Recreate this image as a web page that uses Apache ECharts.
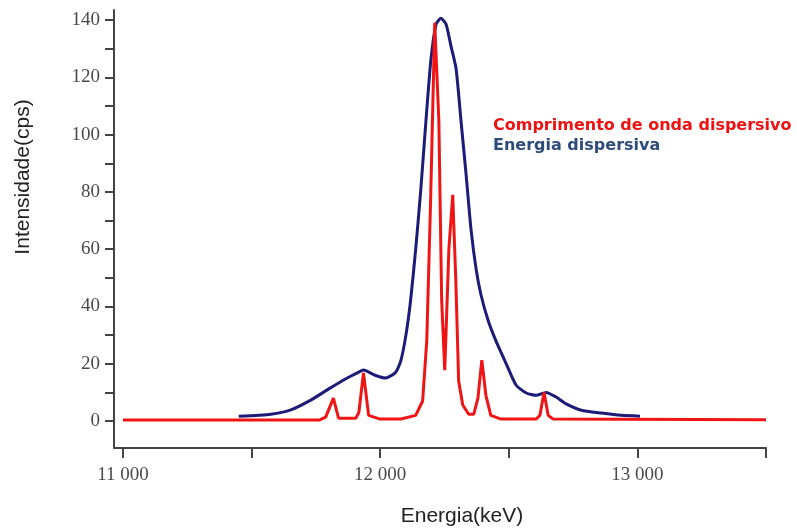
<html>
<head>
  <script src="https://cdn.jsdelivr.net/npm/echarts@6/dist/echarts.min.js"></script>
  <title>Energia dispersiva</title>
</head>
<body style="margin: 0; background: #fff;">
  <div id="main" style="width: 797px; height: 530px;"></div>
  <script>
    // energy (keV), intensity (cps)
    var edsEnergy = [11450, 11575, 11650, 11730, 11805, 11865, 11915, 11935, 11980, 12020, 12060, 12080, 12100, 12118, 12138, 12158, 12178, 12197, 12217, 12236, 12256, 12275, 12295, 12314, 12334, 12353, 12373, 12392, 12420, 12450, 12490, 12528, 12568, 12606, 12645, 12684, 12723, 12782, 12860, 12938, 13010];
    var edsCounts = [1.7, 2.4, 3.8, 7.3, 11.5, 14.7, 17, 17.8, 16, 15, 17, 21, 30, 42, 60, 81, 105, 126, 138.5, 140.6, 138.5, 131, 123, 105, 86, 67, 53, 44, 35, 28, 20, 12.6, 9.8, 9, 10, 8.4, 6, 3.8, 2.8, 2, 1.7];

    var wdsEnergy = [11000, 11765, 11788, 11818, 11838, 11905, 11917, 11935, 11955, 12000, 12080, 12138, 12165, 12181, 12196, 12212, 12228, 12239, 12251, 12267, 12282, 12294, 12305, 12321, 12344, 12364, 12380, 12395, 12411, 12430, 12470, 12606, 12621, 12637, 12653, 12672, 13500];
    var wdsCounts = [0.4, 0.4, 1.4, 8, 1, 1, 3, 16.8, 2, 0.7, 0.7, 2, 7, 28, 77, 139, 105, 42, 17.8, 60, 79, 49, 14, 5.6, 2.4, 2.4, 8, 21.3, 9, 2, 0.7, 0.7, 2, 10, 2, 0.7, 0.5];

    var xTicks = [11000, 11500, 12000, 12500, 13000, 13500];
    var xLabels = [11000, 12000, 13000];
    var yTicks = [0, 10, 20, 30, 40, 50, 60, 70, 80, 90, 100, 110, 120, 130, 140];
    var yLabels = [0, 20, 40, 60, 80, 100, 120, 140];

    var nameWds = 'Comprimento de onda dispersivo';
    var nameEds = 'Energia dispersiva';

    function pairs(xs, ys) {
      var out = [];
      for (let i = 0; i < xs.length; ++i) {
        out.push([xs[i], ys[i]]);
      }
      return out;
    }

    var myChart = echarts.init(document.getElementById('main'));
    var axisColor = '#444';
    var labelFont = {
      color: '#4a4a4a',
      fontFamily: 'Liberation Serif',
      fontSize: 19
    };
    var legendFont = 'bold 16px "DejaVu Sans"';

    var option = {
      animation: false,
      grid: {
        left: 114,
        right: 31,
        top: 10,
        bottom: 82
      },
      xAxis: {
        type: 'value',
        min: 10965,
        max: 13500,
        splitLine: { show: false },
        axisLine: { onZero: false, lineStyle: { color: axisColor, width: 2 } },
        axisTick: {
          customValues: xTicks,
          length: 10,
          lineStyle: { color: axisColor, width: 2 }
        },
        axisLabel: Object.assign({
          customValues: xLabels,
          margin: 13,
          formatter: function (v) {
            return String(v).replace(/\B(?=(\d{3})+(?!\d))/g, ' ');
          }
        }, labelFont)
      },
      yAxis: {
        type: 'value',
        min: -9.4,
        max: 143.5,
        splitLine: { show: false },
        axisLine: { show: true, lineStyle: { color: axisColor, width: 2 } },
        axisTick: {
          show: true,
          customValues: yTicks,
          length: 9,
          lineStyle: { color: axisColor, width: 2 }
        },
        axisLabel: Object.assign({
          customValues: yLabels,
          margin: 14
        }, labelFont)
      },
      graphic: [
        {
          type: 'text',
          x: 23,
          y: 177,
          rotation: Math.PI / 2,
          style: {
            text: 'Intensidade(cps)',
            fill: '#222',
            font: '21px "Liberation Sans"',
            align: 'center',
            verticalAlign: 'middle'
          }
        },
        {
          type: 'text',
          x: 462,
          y: 516,
          style: {
            text: 'Energia(keV)',
            fill: '#222',
            font: '21px "Liberation Sans"',
            align: 'center',
            verticalAlign: 'middle'
          }
        },
        {
          type: 'text',
          x: 493,
          y: 126,
          style: {
            text: nameWds,
            fill: '#ee1111',
            font: legendFont,
            verticalAlign: 'middle'
          }
        },
        {
          type: 'text',
          x: 493,
          y: 146,
          style: {
            text: nameEds,
            fill: '#2d4c7c',
            font: legendFont,
            verticalAlign: 'middle'
          }
        }
      ],
      series: [
        {
          name: nameEds,
          type: 'line',
          data: pairs(edsEnergy, edsCounts),
          showSymbol: false,
          smooth: 0.2,
          lineStyle: { color: '#1c1c78', width: 3 },
          itemStyle: { color: '#1c1c78' }
        },
        {
          name: nameWds,
          type: 'line',
          data: pairs(wdsEnergy, wdsCounts),
          showSymbol: false,
          lineStyle: { color: '#f01515', width: 3 },
          itemStyle: { color: '#f01515' }
        }
      ]
    };

    myChart.setOption(option);
  </script>
</body>
</html>
